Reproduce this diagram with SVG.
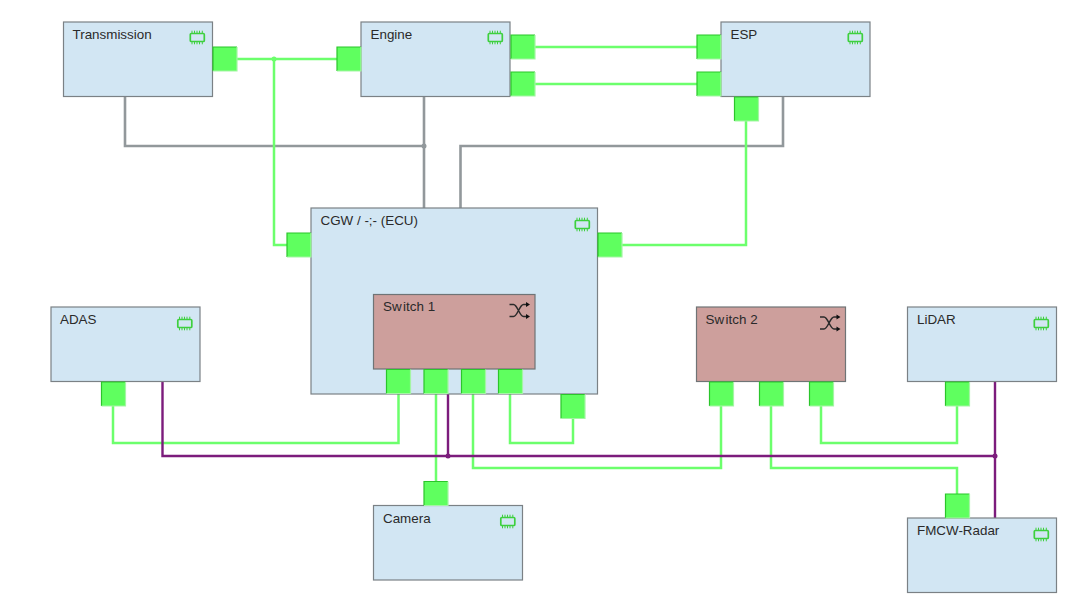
<svg xmlns="http://www.w3.org/2000/svg" width="1080" height="607" viewBox="0 0 1080 607">
<style>
.ecu{fill:#d2e6f3;stroke:#7b8185;stroke-width:1.2}
.sw{fill:#cd9f9c;stroke:#6f7476;stroke-width:1.2}
.lbl{font-family:"Liberation Sans",Arial,sans-serif;font-size:13.400px;fill:#2a2a2a}
.g{fill:none;stroke:#6cff6c;stroke-width:2.500}
.k{fill:none;stroke:#92989b;stroke-width:2.600}
.p{fill:none;stroke:#7c1c7c;stroke-width:2.400}
</style>
<defs>
<g id="pt">
<rect width="24" height="24" fill="#5fff5f"/>
<path d="M0 24V0H24" fill="none" stroke="#2bc52b" stroke-width="1.200"/>
<path d="M24 0V24H0" fill="none" stroke="#a4f5a4" stroke-width="1.200"/>
</g>
<g id="chip" fill="none" stroke="#3ed03e">
<rect x="0.800" y="3" width="14" height="8" rx="1" stroke-width="1.700"/>
<path d="M2.500 0.200v3M5 0.200v3M7.500 0.200v3M10 0.200v3M12.800 0.200v3M2.500 11v2.800M5 11v2.800M7.500 11v2.800M10 11v2.800M12.800 11v2.800" stroke-width="1"/>
</g>
<g id="shuffle">
<path d="M0 2.500h4c4 0 6 12 10 12h4M0 14.500h4c4 0 6-12 10-12h4" fill="none" stroke="#2a2a2a" stroke-width="1.500"/>
<path d="M16.500 0l4 2.500-4 2.500zM16.500 12l4 2.500-4 2.500z" fill="#111"/>
</g>
</defs>
<g id="connectors">
<path class="k" d="M125 96V146H424M424 96V208M460.500 208V146H783V96"/>
<path class="g" d="M237 59H337M274 59V245H287M535 47H697M535 84H697M746 121V245H622M113 406V443H398.500V394M436 394V481M473 394V468H721V406M510 394V443H573V418M771 406V468H957V494M821 406V443H957V406"/>
<path class="p" d="M162.500 381V456H995M448 394V456M995 381V518"/>
<circle cx="274" cy="59" r="2.500" fill="#6cff6c"/>
<circle cx="424" cy="146" r="2.500" fill="#92989b"/>
<circle cx="448" cy="456" r="2.500" fill="#7c1c7c"/>
<circle cx="995" cy="456" r="2.500" fill="#7c1c7c"/>
</g>
<g id="transmission"><rect class="ecu" x="63.500" y="22" width="149" height="74.500"/><text class="lbl" x="72.500" y="39">Transmission</text><use href="#chip" x="189.500" y="30.500"/></g>
<g id="transmission-port"><use href="#pt" x="213" y="47"/></g>
<g id="engine"><rect class="ecu" x="361" y="22" width="149" height="74.500"/><text class="lbl" x="370.500" y="39">Engine</text><use href="#chip" x="487.500" y="30.500"/></g>
<g id="engine-port-left"><use href="#pt" x="337" y="47"/></g>
<g id="engine-port-right-1"><use href="#pt" x="511" y="35"/></g>
<g id="engine-port-right-2"><use href="#pt" x="511" y="72"/></g>
<g id="esp"><rect class="ecu" x="721" y="22" width="149" height="74.500"/><text class="lbl" x="730.500" y="39">ESP</text><use href="#chip" x="847.500" y="30.500"/></g>
<g id="esp-port-left-1"><use href="#pt" x="697" y="35"/></g>
<g id="esp-port-left-2"><use href="#pt" x="697" y="72"/></g>
<g id="esp-port-bottom"><use href="#pt" x="734.500" y="97"/></g>
<g id="cgw"><rect class="ecu" x="311" y="208" width="286.500" height="186"/><text class="lbl" x="320.500" y="225">CGW / -;- (ECU)</text><use href="#chip" x="574.500" y="217.500"/></g>
<g id="cgw-port-left"><use href="#pt" x="287" y="233"/></g>
<g id="cgw-port-right"><use href="#pt" x="598" y="233"/></g>
<g id="cgw-port-bottom"><use href="#pt" x="561" y="394.500"/></g>
<g id="switch1"><rect class="sw" x="373.500" y="294.500" width="161.500" height="74.500"/><text class="lbl" x="383" y="311">Sw<tspan dx="1.500">itch 1</tspan></text><use href="#shuffle" x="509.500" y="302"/></g>
<g id="switch1-port-1"><use href="#pt" x="386.500" y="369.500"/></g>
<g id="switch1-port-2"><use href="#pt" x="424" y="369.500"/></g>
<g id="switch1-port-3"><use href="#pt" x="461.500" y="369.500"/></g>
<g id="switch1-port-4"><use href="#pt" x="498.500" y="369.500"/></g>
<g id="adas"><rect class="ecu" x="51" y="307" width="149" height="74.500"/><text class="lbl" x="60" y="324">ADAS</text><use href="#chip" x="177" y="316.500"/></g>
<g id="adas-port"><use href="#pt" x="101.500" y="382"/></g>
<g id="switch2"><rect class="sw" x="696.500" y="307" width="149" height="74.500"/><text class="lbl" x="705.500" y="324">Sw<tspan dx="1.500">itch 2</tspan></text><use href="#shuffle" x="820" y="314.500"/></g>
<g id="switch2-port-1"><use href="#pt" x="709.500" y="382"/></g>
<g id="switch2-port-2"><use href="#pt" x="759.500" y="382"/></g>
<g id="switch2-port-3"><use href="#pt" x="809.500" y="382"/></g>
<g id="lidar"><rect class="ecu" x="907.500" y="307" width="149" height="74.500"/><text class="lbl" x="917" y="324">LiDAR</text><use href="#chip" x="1033.500" y="316.500"/></g>
<g id="lidar-port"><use href="#pt" x="945.500" y="382"/></g>
<g id="camera"><rect class="ecu" x="373.500" y="505.500" width="149" height="74.500"/><text class="lbl" x="383" y="523">Camera</text><use href="#chip" x="500" y="514.500"/></g>
<g id="camera-port"><use href="#pt" x="424" y="481.500"/></g>
<g id="fmcw"><rect class="ecu" x="907.500" y="518" width="149" height="74.500"/><text class="lbl" x="917" y="535">FMCW-Radar</text><use href="#chip" x="1033.500" y="527.500"/></g>
<g id="fmcw-port"><use href="#pt" x="945.500" y="494"/></g>
</svg>
